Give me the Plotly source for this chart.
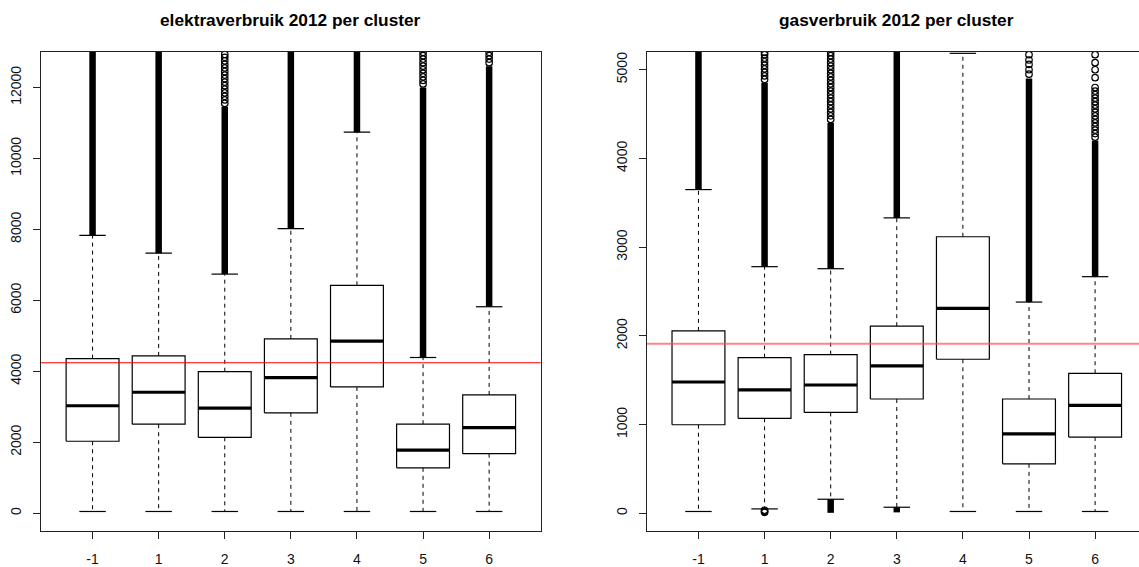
import plotly.graph_objects as go

# ---------------- data ----------------
clusters = ["-1", "1", "2", "3", "4", "5", "6"]

# electricity (left panel)
e_lower = [50, 50, 50, 50, 50, 50, 50]
e_q1 = [2030, 2510, 2140, 2830, 3560, 1280, 1680]
e_median = [3030, 3410, 2965, 3820, 4850, 1780, 2415]
e_q3 = [4360, 4435, 3990, 4915, 6425, 2510, 3335]
e_upper = [7830, 7330, 6740, 8020, 10740, 4390, 5820]
e_dense_top = [13000, 13000, 11450, 13000, 13000, 12000, 12600]
e_sparse = [
    [],
    [],
    [11550, 11650, 11750, 11850, 11950, 12050, 12150, 12250, 12350, 12450,
     12550, 12650, 12750, 12850, 12930],
    [],
    [],
    [12100, 12200, 12300, 12400, 12500, 12600, 12700, 12800, 12900, 12990],
    [12700, 12800, 12900, 12990],
]
e_mean = 4240

# gas (right panel)
g_lower = [20, 49, 158, 68, 20, 20, 20]
g_q1 = [998, 1070, 1137, 1288, 1736, 557, 859]
g_median = [1480, 1390, 1446, 1661, 2309, 896, 1217]
g_q3 = [2056, 1755, 1789, 2109, 3117, 1288, 1578]
g_upper = [3649, 2780, 2757, 3330, 5185, 2381, 2667]
g_dense_top = [5200, 4850, 4400, 5200, None, 4900, 4200]
g_low_dense_bottom = [None, None, 5, 10, None, None, None]
g_sparse = [
    [],
    [4890, 4930, 4970, 5010, 5050, 5090, 5130, 5170, 5195, 10, 22, 34],
    [4440, 4480, 4520, 4560, 4600, 4640, 4680, 4720, 4760, 4800, 4840, 4880,
     4920, 4960, 5000, 5040, 5080, 5120, 5160, 5195],
    [],
    [],
    [4950, 5000, 5060, 5110, 5170],
    [4240, 4280, 4320, 4360, 4400, 4440, 4480, 4520, 4560, 4600, 4640, 4680,
     4720, 4760, 4800, 4910, 5000, 5080, 5170],
]
g_mean = 1910

titles = ["elektraverbruik 2012 per cluster", "gasverbruik 2012 per cluster"]
e_yticks = [0, 2000, 4000, 6000, 8000, 10000, 12000]
g_yticks = [0, 1000, 2000, 3000, 4000, 5000]

# ---------------- styling ----------------
BOX_HALF = 0.4
STAPLE_HALF = 0.2
FONT = "Liberation Sans, Arial, sans-serif"
W, H = 1139, 567
MT, MB = 52, 36
PH = H - MT - MB

fig = go.Figure()


def add_panel(xa, ya, lower, q1, med, q3, upper, dense_top, sparse, low_dense=None):
    pos = list(range(1, len(clusters) + 1))
    bx, by, mx, my, wx, wy, sx, sy, dx, dy, ox, oy = ([] for _ in range(12))
    for i, c in enumerate(pos):
        bx += [c - BOX_HALF, c + BOX_HALF, c + BOX_HALF, c - BOX_HALF, c - BOX_HALF, None]
        by += [q1[i], q1[i], q3[i], q3[i], q1[i], None]
        mx += [c - BOX_HALF, c + BOX_HALF, None]
        my += [med[i], med[i], None]
        wx += [c, c, None, c, c, None]
        wy += [q3[i], upper[i], None, q1[i], lower[i], None]
        sx += [c - STAPLE_HALF, c + STAPLE_HALF, None, c - STAPLE_HALF, c + STAPLE_HALF, None]
        sy += [upper[i], upper[i], None, lower[i], lower[i], None]
        if dense_top[i] is not None:
            dx += [c, c, None]
            dy += [upper[i], dense_top[i], None]
        if low_dense is not None and low_dense[i] is not None:
            dx += [c, c, None]
            dy += [lower[i], low_dense[i], None]
        for v in sparse[i]:
            ox.append(c)
            oy.append(v)
    common = dict(xaxis=xa, yaxis=ya, showlegend=False, hoverinfo="skip")
    fig.add_trace(go.Scatter(x=wx, y=wy, mode="lines",
                             line=dict(color="black", width=1, dash="4px,4px"), **common))
    fig.add_trace(go.Scatter(x=bx, y=by, mode="lines",
                             line=dict(color="black", width=1.2), **common))
    fig.add_trace(go.Scatter(x=mx, y=my, mode="lines",
                             line=dict(color="black", width=3.2), **common))
    fig.add_trace(go.Scatter(x=sx, y=sy, mode="lines",
                             line=dict(color="black", width=1.2), **common))
    fig.add_trace(go.Scatter(x=dx, y=dy, mode="lines",
                             line=dict(color="black", width=6.5), **common))
    fig.add_trace(go.Scatter(x=ox, y=oy, mode="markers",
                             marker=dict(symbol="circle-open", size=6.5, color="black",
                                         line=dict(width=1.2, color="black")), **common))


add_panel("x", "y", e_lower, e_q1, e_median, e_q3, e_upper, e_dense_top, e_sparse)
add_panel("x2", "y2", g_lower, g_q1, g_median, g_q3, g_upper, g_dense_top, g_sparse,
          g_low_dense_bottom)

# mean lines
fig.add_shape(type="line", xref="x domain", yref="y", x0=0, x1=1, y0=e_mean, y1=e_mean,
              line=dict(color="#ff0000", width=1.1), layer="above")
fig.add_shape(type="line", xref="x2 domain", yref="y2", x0=0, x1=1, y0=g_mean, y1=g_mean,
              line=dict(color="rgba(255,80,80,0.7)", width=2), layer="above")

xbase = dict(tickmode="array", tickvals=list(range(1, 8)), ticktext=clusters,
             ticks="outside", ticklen=7, tickcolor="#222", tickwidth=1,
             showline=True, linecolor="#222", linewidth=1, mirror=True,
             showgrid=False, zeroline=False, ticklabelstandoff=8,
             tickfont=dict(family=FONT, size=14, color="#111"))
ybase = dict(ticks="outside", ticklen=7, tickcolor="#222", tickwidth=1,
             showline=True, linecolor="#222", linewidth=1, tickformat="d",
             showgrid=False, zeroline=False, tickangle=-90, ticklabelstandoff=6,
             tickfont=dict(family=FONT, size=14, color="#111"))

title_y = 1 + (MT - 19.5) / PH
fig.update_layout(
    width=W, height=H,
    margin=dict(l=0, r=0, t=MT, b=MB, pad=0),
    paper_bgcolor="white", plot_bgcolor="white",
    xaxis=dict(xbase, domain=[41 / W, 540.7 / W], range=[0.22, 7.78], anchor="y"),
    yaxis=dict(ybase, domain=[0, 1], range=[-500, 13000], tickvals=e_yticks,
               mirror=True, anchor="x"),
    xaxis2=dict(xbase, domain=[646.9 / W, 1], range=[0.22, 7.664], anchor="y2"),
    yaxis2=dict(ybase, domain=[0, 1], range=[-200, 5200], tickvals=g_yticks,
                mirror=False, anchor="x2"),
    annotations=[
        dict(text="<b>%s</b>" % titles[0], xref="paper", yref="paper",
             x=(41 + 540.7) / 2 / W, y=title_y, xanchor="center", yanchor="middle",
             showarrow=False, font=dict(family=FONT, size=17.3, color="black")),
        dict(text="<b>%s</b>" % titles[1], xref="paper", yref="paper",
             x=(646.9 + 1146.6) / 2 / W, y=title_y, xanchor="center", yanchor="middle",
             showarrow=False, font=dict(family=FONT, size=17.3, color="black")),
    ],
)

fig.write_html("out.html")
